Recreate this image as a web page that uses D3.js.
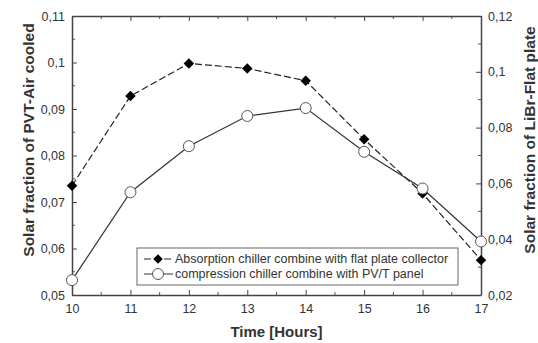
<!DOCTYPE html>
<html>
<head>
<meta charset="utf-8">
<script src="https://cdn.jsdelivr.net/npm/d3@7"></script>
<style>
  body { margin: 0; background: #fff; }
  svg { font-family: "Liberation Sans", Arial, sans-serif; }
  .tick text { font-size: 12.5px; fill: #333; }
  .axis path, .axis line { stroke: #444; }
</style>
</head>
<body>
<script>

var hours = [10, 11, 12, 13, 14, 15, 16, 17];
// absorption chiller + flat plate collector (right axis)
var absorption = [0.0592, 0.0913, 0.1030, 0.1012, 0.0968, 0.0758, 0.0564, 0.0325];
// compression chiller + PV/T panel (left axis)
var compression = [0.0532, 0.0721, 0.0820, 0.0885, 0.0902, 0.0808, 0.0729, 0.0615];

var leftTicks = [0.05, 0.06, 0.07, 0.08, 0.09, 0.1, 0.11];
var rightTicks = [0.02, 0.04, 0.06, 0.08, 0.1, 0.12];
var legendLabels = ["Absorption chiller combine with flat plate collector",
                    "compression chiller combine with PV/T panel"];

var W = 538, H = 343;
var margin = {top: 16, right: 57, bottom: 48, left: 72};
var width = W - margin.left - margin.right,
    height = H - margin.top - margin.bottom;

var fmt = function (d) { return String(+d.toFixed(3)).replace(".", ","); };

var svg = d3.select("body").append("svg")
    .attr("width", W)
    .attr("height", H);

var x = d3.scaleLinear().domain([10, 17]).range([margin.left, margin.left + width]);
var yL = d3.scaleLinear().domain([0.05, 0.11]).range([margin.top + height, margin.top]);
var yR = d3.scaleLinear().domain([0.02, 0.12]).range([margin.top + height, margin.top]);

// minor ticks (inward)
var minor = svg.append("g").attr("stroke", "#555").attr("stroke-width", 1);
d3.range(10.5, 17, 1).forEach(function (h) {
    minor.append("line").attr("x1", x(h)).attr("x2", x(h))
        .attr("y1", yL(0.05)).attr("y2", yL(0.05) - 3);
    minor.append("line").attr("x1", x(h)).attr("x2", x(h))
        .attr("y1", yL(0.11)).attr("y2", yL(0.11) + 3);
});
d3.range(0.055, 0.11, 0.01).forEach(function (v) {
    minor.append("line").attr("x1", x(10)).attr("x2", x(10) + 3)
        .attr("y1", yL(v)).attr("y2", yL(v));
});
d3.range(0.03, 0.12, 0.02).forEach(function (v) {
    minor.append("line").attr("x1", x(17)).attr("x2", x(17) - 3)
        .attr("y1", yR(v)).attr("y2", yR(v));
});

var xAxis = d3.axisBottom(x).tickValues(hours).tickSizeInner(-5).tickSizeOuter(0).tickPadding(9).tickFormat(d3.format("d"));
var xTop = d3.axisTop(x).tickValues(hours).tickSizeInner(-5).tickSizeOuter(0).tickFormat("");
var yAxisL = d3.axisLeft(yL).tickValues(leftTicks).tickSizeInner(-5).tickSizeOuter(0).tickPadding(7).tickFormat(fmt);
var yAxisR = d3.axisRight(yR).tickValues(rightTicks).tickSizeInner(-5).tickSizeOuter(0).tickPadding(7).tickFormat(fmt);

svg.append("g").attr("class", "axis")
    .attr("transform", "translate(0," + (margin.top + height) + ")")
    .call(xAxis);
svg.append("g").attr("class", "axis")
    .attr("transform", "translate(0," + margin.top + ")")
    .call(xTop);
svg.append("g").attr("class", "axis")
    .attr("transform", "translate(" + margin.left + ",0)")
    .call(yAxisL);
svg.append("g").attr("class", "axis")
    .attr("transform", "translate(" + (margin.left + width) + ",0)")
    .call(yAxisR);

svg.selectAll(".axis path").attr("stroke-width", 1.5);

// lines
var lineR = d3.line().x(function (d, i) { return x(hours[i]); }).y(function (d) { return yR(d); });
var lineL = d3.line().x(function (d, i) { return x(hours[i]); }).y(function (d) { return yL(d); });

svg.append("path")
    .attr("d", lineR(absorption))
    .style("stroke", "#222").style("stroke-width", 1.2)
    .style("stroke-dasharray", "7,3")
    .style("fill", "none");

svg.append("path")
    .attr("d", lineL(compression))
    .style("stroke", "#333").style("stroke-width", 1.2)
    .style("fill", "none");

svg.selectAll(".dia").data(absorption).enter().append("path")
    .attr("class", "dia")
    .attr("d", d3.symbol().type(d3.symbolSquare).size(55))
    .attr("transform", function (d, i) { return "translate(" + x(hours[i]) + "," + yR(d) + ") rotate(45)"; })
    .style("fill", "#000");

svg.selectAll(".circ").data(compression).enter().append("circle")
    .attr("class", "circ")
    .attr("cx", function (d, i) { return x(hours[i]); })
    .attr("cy", function (d) { return yL(d); })
    .attr("r", 5.5)
    .style("fill", "#fff").style("stroke", "#555").style("stroke-width", 1);

// legend
var lg = svg.append("g").attr("transform", "translate(137,248)");
lg.append("rect").attr("width", 321).attr("height", 37)
    .style("fill", "#fff").style("stroke", "#666").style("stroke-width", 1);

lg.append("line").attr("x1", 7).attr("x2", 36).attr("y1", 11).attr("y2", 11)
    .style("stroke", "#222").style("stroke-dasharray", "7,3");
lg.append("path").attr("d", d3.symbol().type(d3.symbolSquare).size(45))
    .attr("transform", "translate(21,11) rotate(45)").style("fill", "#000");
lg.append("line").attr("x1", 7).attr("x2", 36).attr("y1", 26).attr("y2", 26)
    .style("stroke", "#333");
lg.append("circle").attr("cx", 21).attr("cy", 26).attr("r", 5.5)
    .style("fill", "#fff").style("stroke", "#555");

lg.selectAll(".lt").data(legendLabels).enter().append("text")
    .attr("x", 38).attr("y", function (d, i) { return 15 + i * 15; })
    .style("font-size", "12.5px").style("fill", "#333")
    .text(function (d) { return d; });

// axis titles
svg.append("text")
    .attr("x", margin.left + width / 2).attr("y", 337)
    .attr("text-anchor", "middle")
    .style("font-size", "15px").style("font-weight", "bold").style("fill", "#333")
    .text("Time [Hours]");

svg.append("text")
    .attr("transform", "translate(34,140) rotate(-90)")
    .attr("text-anchor", "middle")
    .style("font-size", "15.5px").style("font-weight", "bold").style("fill", "#333")
    .text("Solar fraction of PVT-Air cooled");

svg.append("text")
    .attr("transform", "translate(535,140) rotate(-90)")
    .attr("text-anchor", "middle")
    .style("font-size", "15.5px").style("font-weight", "bold").style("fill", "#333")
    .text("Solar fraction of LiBr-Flat plate");

</script>
</body>
</html>
